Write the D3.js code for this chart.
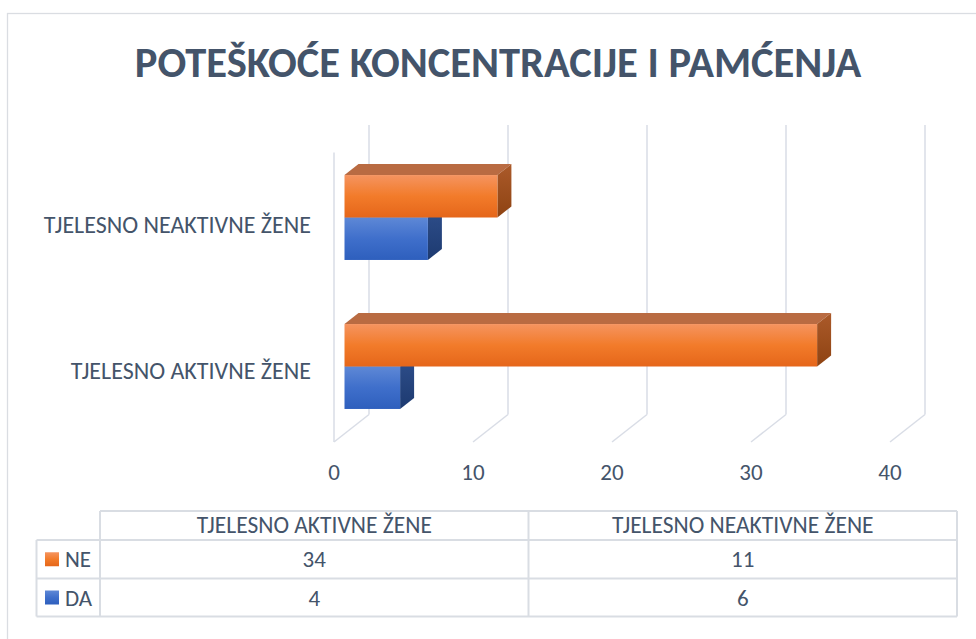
<!DOCTYPE html>
<html>
<head>
<meta charset="utf-8">
<script src="https://cdn.jsdelivr.net/npm/d3@7"></script>
<style>
  body { margin: 0; background: #fff; }
  text { font-family: Carlito, Calibri, Lato, sans-serif; fill: #44546a; }
</style>
</head>
<body>
<script>
// data
var categories = ["TJELESNO AKTIVNE ŽENE", "TJELESNO NEAKTIVNE ŽENE"];
var seriesNames = ["NE", "DA"];
var valuesNE = [34, 11];
var valuesDA = [4, 6];
var xTicks = [0, 10, 20, 30, 40];
var chartTitle = "POTEŠKOĆE KONCENTRACIJE I PAMĆENJA";

var series = [
    { name: "NE", values: valuesNE, grad: "gOrange", side: "gOrangeSide", top: "#b96b42" },
    { name: "DA", values: valuesDA, grad: "gBlue", side: "gBlueSide", top: "#37599a" }
];

var W = 976, H = 639;
var originX = 334, floorY = 442;      // front-left corner of floor
var depthX = 35, depthY = -27.5;      // depth of the 3d box
var backTop = 125;

var svg = d3.select("body").append("svg")
    .attr("width", W)
    .attr("height", H)
    .attr("viewBox", "0 0 " + W + " " + H);

var defs = svg.append("defs");
function vgrad(id, stops) {
    var g = defs.append("linearGradient").attr("id", id)
        .attr("x1", 0).attr("y1", 0).attr("x2", 0).attr("y2", 1);
    stops.forEach(function(s) {
        g.append("stop").attr("offset", s[0]).attr("stop-color", s[1]);
    });
}
vgrad("gOrange", [[0, "#f59460"], [0.5, "#f27b2a"], [1, "#e5661a"]]);
vgrad("gOrangeSide", [[0, "#ab5a2a"], [1, "#8e4312"]]);
vgrad("gBlue", [[0, "#5e88d6"], [0.5, "#3f6fcb"], [1, "#2e5fbd"]]);
vgrad("gBlueSide", [[0, "#2f4f8c"], [1, "#1d3a70"]]);

// chart border
svg.append("rect")
    .attr("x", 7.5).attr("y", 13.5)
    .attr("width", W).attr("height", H)
    .attr("fill", "none")
    .attr("stroke", "#dadde2")
    .attr("stroke-width", 1.3);

svg.append("text")
    .attr("x", 498).attr("y", 77)
    .attr("text-anchor", "middle")
    .attr("font-size", 42.5)
    .attr("font-weight", "bold")
    .text(chartTitle);

var x = d3.scaleLinear().domain([0, 40]).range([0, 556]);

// gridlines on back wall and floor
var grid = svg.append("g")
    .attr("stroke", "#d9dde6")
    .attr("stroke-width", 1.5)
    .attr("fill", "none");

grid.selectAll("line.back")
    .data(xTicks)
    .enter().append("line")
    .attr("class", "back")
    .attr("x1", function(d) { return originX + depthX + x(d); })
    .attr("x2", function(d) { return originX + depthX + x(d); })
    .attr("y1", backTop)
    .attr("y2", floorY + depthY);

grid.selectAll("line.floor")
    .data(xTicks)
    .enter().append("line")
    .attr("class", "floor")
    .attr("x1", function(d) { return originX + x(d); })
    .attr("y1", floorY)
    .attr("x2", function(d) { return originX + depthX + x(d); })
    .attr("y2", floorY + depthY);

grid.append("line")
    .attr("x1", originX).attr("x2", originX)
    .attr("y1", backTop - depthY).attr("y2", floorY);

svg.selectAll("text.tick")
    .data(xTicks)
    .enter().append("text")
    .attr("class", "tick")
    .attr("x", function(d) { return originX + x(d); })
    .attr("y", 480)
    .attr("text-anchor", "middle")
    .attr("font-size", 23)
    .text(function(d) { return d; });

// category bands: bars sit at 30%..70% of the depth
var yBar = d3.scaleBand().domain(categories).range([441, 143])
    .paddingInner(0.43).paddingOuter(0.215);
var ySer = d3.scaleBand().domain(seriesNames).range([0, yBar.bandwidth()]);
var yLab = d3.scaleBand().domain(categories).range([444, 152]);

svg.selectAll("text.cat")
    .data(categories)
    .enter().append("text")
    .attr("class", "cat")
    .attr("x", 311)
    .attr("y", function(d) { return yLab(d) + yLab.bandwidth() / 2 + 8; })
    .attr("text-anchor", "end")
    .attr("font-size", 24)
    .text(function(d) { return d; });

var f0 = 0.3, f1 = 0.7;
var bx0 = originX + depthX * f0, by0 = depthY * f0;
var ddx = depthX * (f1 - f0), ddy = depthY * (f1 - f0);

var bars = svg.append("g");
// DA first so NE front face covers its top
series.slice().reverse().forEach(function(s) {
    categories.forEach(function(c, i) {
        var x0 = bx0, x1 = bx0 + x(s.values[i]);
        var y0 = yBar(c) + ySer(s.name) + by0 + 8.25;
        var y1 = y0 + ySer.bandwidth();
        var g = bars.append("g");
        g.append("path")
            .attr("d", "M" + x0 + "," + y0 + "L" + (x0 + ddx) + "," + (y0 + ddy) +
                "L" + (x1 + ddx) + "," + (y0 + ddy) + "L" + x1 + "," + y0 + "Z")
            .attr("fill", s.top);
        g.append("path")
            .attr("d", "M" + x1 + "," + y0 + "L" + (x1 + ddx) + "," + (y0 + ddy) +
                "L" + (x1 + ddx) + "," + (y1 + ddy) + "L" + x1 + "," + y1 + "Z")
            .attr("fill", "url(#" + s.side + ")");
        g.append("rect")
            .attr("x", x0).attr("y", y0)
            .attr("width", x1 - x0).attr("height", y1 - y0)
            .attr("fill", "url(#" + s.grad + ")");
    });
});

// data table
var tblLeft = 36.5, tblKey = 100, tblRight = 957;
var rowY = [511, 540, 578.5, 616.5];
var col = d3.scaleBand().domain(categories).range([tblKey, tblRight]);
var tbl = svg.append("g");
var tl = tbl.append("g").attr("stroke", "#d9dde3").attr("stroke-width", 2);

tl.append("line").attr("x1", tblKey).attr("x2", tblRight).attr("y1", rowY[0]).attr("y2", rowY[0]);
rowY.slice(1).forEach(function(y) {
    tl.append("line").attr("x1", tblLeft).attr("x2", tblRight).attr("y1", y).attr("y2", y);
});
tl.append("line").attr("x1", tblLeft).attr("x2", tblLeft).attr("y1", rowY[1]).attr("y2", rowY[3]);
tl.append("line").attr("x1", tblKey).attr("x2", tblKey).attr("y1", rowY[0]).attr("y2", rowY[3]);
categories.forEach(function(c) {
    tl.append("line").attr("x1", col(c) + col.bandwidth()).attr("x2", col(c) + col.bandwidth())
        .attr("y1", rowY[0]).attr("y2", rowY[3]);
});

categories.forEach(function(c) {
    tbl.append("text")
        .attr("x", col(c) + col.bandwidth() / 2)
        .attr("y", rowY[0] + 22)
        .attr("text-anchor", "middle")
        .attr("font-size", 23.5)
        .text(c);
});

series.forEach(function(s, r) {
    var yc = (rowY[r + 1] + rowY[r + 2]) / 2;
    tbl.append("rect")
        .attr("x", 45).attr("y", yc - 7)
        .attr("width", 14).attr("height", 14)
        .attr("fill", "url(#" + s.grad + ")");
    tbl.append("text")
        .attr("x", 65).attr("y", yc + 8)
        .attr("font-size", 23)
        .text(s.name);
    categories.forEach(function(c, i) {
        tbl.append("text")
            .attr("x", col(c) + col.bandwidth() / 2)
            .attr("y", yc + 8)
            .attr("text-anchor", "middle")
            .attr("font-size", 23)
            .text(s.values[i]);
    });
});
</script>
</body>
</html>
